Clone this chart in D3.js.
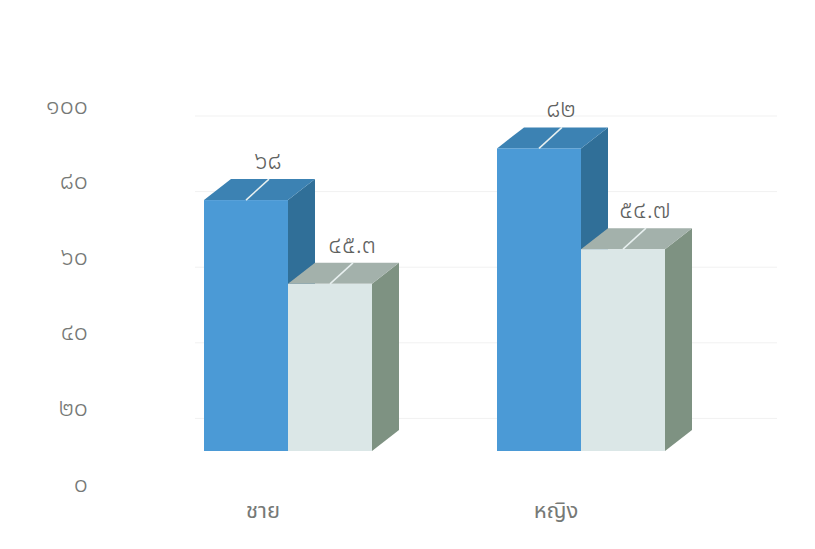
<!DOCTYPE html>
<html>
<head>
<meta charset="utf-8">
<script src="https://cdn.jsdelivr.net/npm/d3@7"></script>
<style>
  body { margin: 0; background: #fff; }
  svg { display: block; font-family: "Noto Sans Thai", "Leelawadee UI", Tahoma, "DejaVu Sans", sans-serif; }
</style>
</head>
<body>
<svg id="chart" width="815" height="549"></svg>
<script>
  var categories = ["ชาย", "หญิง"];
  var seriesNames = ["a", "b"];
  var valuesA = [68, 82];
  var valuesB = [45.3, 54.7];
  var tickValues = [0, 20, 40, 60, 80, 100];
  var tickLabels = ["๐", "๒๐", "๔๐", "๖๐", "๘๐", "๑๐๐"];
  var valueLabelsA = ["๖๘", "๘๒"];
  var valueLabelsB = ["๔๕.๓", "๕๔.๗"];

  var colors = {
    a: { front: "#4b9ad6", top: "#3c82b3", side: "#306f98" },
    b: { front: "#dbe7e7", top: "#a3b1ab", side: "#7e9282" }
  };

  var svg = d3.select("#chart");
  var dx = 27, dy = -21;

  var x = d3.scalePoint().domain(categories).range([288, 581]);
  var xs = d3.scaleBand().domain(seriesNames).range([-84, 84]);
  var y = d3.scaleLinear().domain([0, 100]).range([451, 82]);
  var yAxisScale = d3.scaleLinear().domain([0, 100]).range([483, 105]);

  // faint back wall gridlines
  svg.append("g").selectAll("line").data(tickValues.slice(1)).enter()
    .append("line")
    .attr("x1", 195).attr("x2", 777)
    .attr("y1", function (d) { return yAxisScale(d) + 11; })
    .attr("y2", function (d) { return yAxisScale(d) + 11; })
    .attr("stroke", "#f1f1f1")
    .attr("stroke-width", 1);

  var axis = svg.append("g")
    .attr("transform", "translate(88,0)")
    .call(d3.axisLeft(yAxisScale).tickValues(tickValues)
      .tickFormat(function (d, i) { return tickLabels[i]; })
      .tickSize(0).tickPadding(0))
    .attr("font-family", null);
  axis.select(".domain").remove();
  axis.selectAll("text")
    .attr("fill", "#767976")
    .style("font-size", "25px")
    .style("font-weight", "300");

  var bars = [];
  categories.forEach(function (c, i) {
    bars.push({ cat: c, s: "a", v: valuesA[i], label: valueLabelsA[i] });
    bars.push({ cat: c, s: "b", v: valuesB[i], label: valueLabelsB[i] });
  });

  var g = svg.append("g");
  bars.forEach(function (d) {
    var x0 = x(d.cat) + xs(d.s), x1 = x0 + xs.bandwidth();
    var yt = y(d.v), yb = y(0);
    var c = colors[d.s];
    // side
    g.append("path")
      .attr("d", "M" + x1 + "," + yb + "L" + (x1 + dx) + "," + (yb + dy) +
        "L" + (x1 + dx) + "," + (yt + dy) + "L" + x1 + "," + yt + "Z")
      .attr("fill", c.side);
    // top
    g.append("path")
      .attr("d", "M" + x0 + "," + yt + "L" + (x0 + dx) + "," + (yt + dy) +
        "L" + (x1 + dx) + "," + (yt + dy) + "L" + x1 + "," + yt + "Z")
      .attr("fill", c.top);
    // front
    g.append("rect")
      .attr("x", x0).attr("y", yt)
      .attr("width", x1 - x0).attr("height", yb - yt)
      .attr("fill", c.front);
    // leader line
    var cx = (x0 + x1) / 2;
    g.append("line")
      .attr("x1", cx).attr("y1", yt)
      .attr("x2", cx + dx - 4).attr("y2", yt + dy)
      .attr("stroke", "#e8f0f0").attr("stroke-width", 1.5);
    g.append("text")
      .attr("x", cx + 22).attr("y", yt + dy - 10)
      .attr("text-anchor", "middle")
      .attr("fill", "#5f625f")
      .style("font-size", "25px")
      .style("font-weight", "300")
      .text(d.label);
  });

  svg.append("g").selectAll("text").data(categories).enter()
    .append("text")
    .attr("x", function (d) { return x(d) - 25; })
    .attr("y", 518)
    .attr("text-anchor", "middle")
    .attr("fill", "#767976")
    .style("font-size", "22px")
    .text(function (d) { return d; });
</script>
</body>
</html>
